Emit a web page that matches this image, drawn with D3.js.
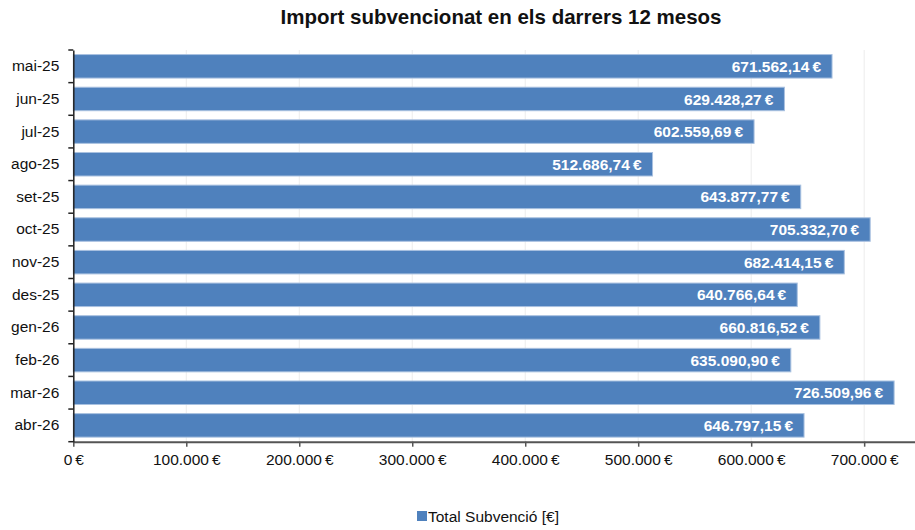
<!DOCTYPE html>
<html><head><meta charset="utf-8">
<script src="https://cdn.jsdelivr.net/npm/d3@7"></script>
<style>body{margin:0;background:#fff;font-family:"Liberation Sans",Arial,sans-serif}</style>
</head><body><svg id="c" width="915" height="530"></svg>
<script>
const categories = ["mai-25","jun-25","jul-25","ago-25","set-25","oct-25","nov-25","des-25","gen-26","feb-26","mar-26","abr-26"];
const values = [671562.14,629428.27,602559.69,512686.74,643877.77,705332.70,682414.15,640766.64,660816.52,635090.90,726509.96,646797.15];
const xTicks = [0,100000,200000,300000,400000,500000,600000,700000];
const title = "Import subvencionat en els darrers 12 mesos";
const seriesName = "Total Subvenció [€]";

(function(){
const loc = d3.formatLocale({decimal:",",thousands:".",grouping:[3],currency:["","\u202f€"]});
const fmt2 = loc.format("$,.2f"), fmt0 = loc.format("$,.0f");
const FS = 15.5;
const svg = d3.select("#c");
const pL = 73.3, pR = 915, pT = 50, pB = 441.7;
const x = d3.scaleLinear().domain([0,745000]).range([pL,pR]);
const y = d3.scaleBand().domain(categories).range([pT,pB]).paddingInner(0.28).paddingOuter(0.14);

svg.append("g").selectAll("line").data(xTicks.slice(1)).join("line")
  .attr("x1",d=>x(d)).attr("x2",d=>x(d)).attr("y1",pT).attr("y2",pB)
  .attr("stroke","#ececec").attr("stroke-width",1);

svg.append("g").selectAll("rect").data(values).join("rect")
  .attr("x",x(0)).attr("y",(d,i)=>y(categories[i]))
  .attr("width",d=>x(d)-x(0)).attr("height",y.bandwidth())
  .attr("fill","#4f81bd").attr("stroke","#a9c1e0").attr("stroke-width",1);

svg.append("g").selectAll("text").data(values).join("text")
  .attr("x",d=>x(d)-11).attr("y",(d,i)=>y(categories[i])+y.bandwidth()/2)
  .attr("dy","0.36em").attr("text-anchor","end")
  .attr("fill","#fff").attr("font-weight","bold").attr("font-size",FS)
  .text(d=>fmt2(d));

const xa = svg.append("g").attr("transform",`translate(0,${pB})`)
  .call(d3.axisBottom(x).tickValues(xTicks).tickFormat(d=>fmt0(d)).tickSize(5).tickSizeOuter(0));
xa.select(".domain").attr("stroke","#555").attr("stroke-width",2);
xa.selectAll(".tick line").attr("stroke","#555").attr("stroke-width",1.5);
xa.selectAll(".tick text").attr("font-size",FS).attr("fill","#111").attr("dy","1.0em")
  .attr("font-family","Liberation Sans, Arial, sans-serif");

const ya = svg.append("g").attr("transform",`translate(${pL},0)`)
  .call(d3.axisLeft(y).tickSize(0).tickPadding(14));
ya.select(".domain").attr("stroke","#222").attr("stroke-width",1.5);
ya.selectAll(".tick text").attr("font-size",FS).attr("fill","#111")
  .attr("font-family","Liberation Sans, Arial, sans-serif");
const bounds = categories.map(c=>y(c)-y.step()*y.paddingInner()/2).concat([pB]);
bounds[0]=pT;
svg.append("g").selectAll("line").data(bounds).join("line")
  .attr("x1",pL-5).attr("x2",pL).attr("y1",d=>d).attr("y2",d=>d)
  .attr("stroke","#222").attr("stroke-width",1.5);

svg.append("text").attr("x",501).attr("y",24).attr("text-anchor","middle")
  .attr("font-weight","bold").attr("font-size",20.5).attr("fill","#111").text(title);

const lg = svg.append("g").attr("transform","translate(417,511)");
lg.append("rect").attr("width",10).attr("height",10).attr("fill","#4f81bd");
lg.append("text").attr("x",11).attr("y",10.5).attr("font-size",FS).attr("fill","#111").text(seriesName);
})();
</script></body></html>
